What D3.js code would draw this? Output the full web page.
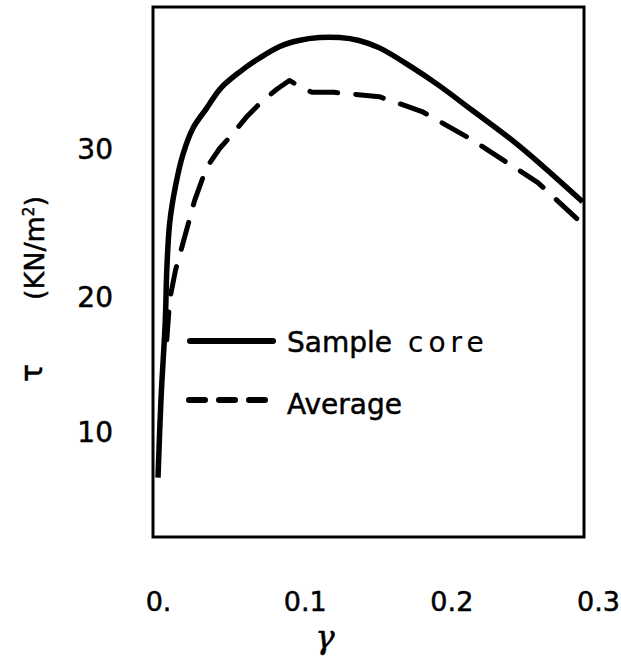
<!DOCTYPE html>
<html>
<head>
<meta charset="utf-8">
<script src="https://cdn.jsdelivr.net/npm/d3@7"></script>
<style>
  body { margin: 0; background: #fff; }
  svg { display: block; }
  text { font-family: "DejaVu Sans", sans-serif; fill: #000; stroke: #000; stroke-width: 0.5px; }
</style>
</head>
<body>
<svg id="chart" width="621" height="659"></svg>
<script>
// shear stress tau (KN/m2) vs shear strain gamma
const sampleGamma = [0.0, 0.002, 0.005, 0.006, 0.008, 0.012, 0.017, 0.024, 0.033, 0.043, 0.056, 0.069,
  0.083, 0.096, 0.110, 0.124, 0.137, 0.151, 0.173, 0.191, 0.214, 0.246, 0.2895]
const sampleTau = [6.7, 12.4, 18.4, 21.9, 25.1, 27.6, 29.7, 31.5, 32.8, 34.2, 35.3, 36.2,
  37.0, 37.4, 37.6, 37.6, 37.4, 36.9, 35.6, 34.4, 32.7, 30.3, 26.5]

const averageGamma = [0.006, 0.008, 0.012, 0.017, 0.025, 0.033, 0.042, 0.051, 0.061, 0.071, 0.081,
  0.0896, 0.098, 0.105, 0.120, 0.151, 0.180, 0.214, 0.259, 0.2895]
const averageTau = [16.9, 19.9, 21.9, 23.7, 26.6, 28.8, 30.1, 31.1, 32.3, 33.3, 34.1,
  34.7, 34.2, 33.9, 33.9, 33.6, 32.6, 30.7, 27.8, 25.0]

const xTicks = [0, 0.1, 0.2, 0.3]
const yTicks = [10, 20, 30]
const legendLabels = ['Sample', 'core', 'Average']

const frame = { left: 153, top: 7, right: 584, bottom: 537 }

const svg = d3.select('#chart')

const x = d3.scaleLinear().domain([0, 0.3]).range([158, 598])
// the hand-drawn axis is not evenly spaced, so y is piecewise
const y = d3.scaleLinear().domain([10, 20, 30]).range([433, 298, 150])

// frame
svg.append('rect')
  .attr('x', frame.left)
  .attr('y', frame.top)
  .attr('width', frame.right - frame.left)
  .attr('height', frame.bottom - frame.top)
  .attr('fill', 'none')
  .attr('stroke', '#000')
  .attr('stroke-width', 3)

// axes (labels only)
const xAxis = d3.axisBottom(x)
  .tickValues(xTicks)
  .tickSize(0)
  .tickPadding(55)
  .tickFormat(d => d === 0 ? '0.' : d.toFixed(1))
svg.append('g')
  .attr('transform', `translate(0,${frame.bottom})`)
  .call(xAxis)
  .call(g => g.select('.domain').remove())
  .selectAll('text')
  .attr('font-size', 27)
  .attr('font-family', '"DejaVu Sans", sans-serif')

const yAxis = d3.axisLeft(y)
  .tickValues(yTicks)
  .tickSize(0)
  .tickPadding(40)
svg.append('g')
  .attr('transform', `translate(${frame.left},0)`)
  .call(yAxis)
  .call(g => g.select('.domain').remove())
  .selectAll('text')
  .attr('font-size', 28)
  .attr('font-family', '"DejaVu Sans", sans-serif')

// axis titles
svg.append('text')
  .attr('x', 325)
  .attr('y', 648)
  .attr('text-anchor', 'middle')
  .attr('font-size', 32)
  .attr('font-style', 'italic')
  .style('font-family', '"DejaVu Serif", serif')
  .text('γ')

svg.append('text')
  .attr('transform', 'translate(42,373) rotate(-90)')
  .attr('text-anchor', 'middle')
  .attr('font-size', 30)
  .style('font-family', '"DejaVu Sans", sans-serif')
  .text('τ')

svg.append('text')
  .attr('transform', 'translate(44,248) rotate(-90)')
  .attr('text-anchor', 'middle')
  .attr('font-size', 27)
  .html('(KN/m<tspan dy="-10" font-size="15">2</tspan><tspan dy="10">)</tspan>')

// curves
const sampleData = sampleGamma.map((g, i) => [g, sampleTau[i]])
const averageData = averageGamma.map((g, i) => [g, averageTau[i]])

svg.append('path')
  .datum(sampleData)
  .attr('fill', 'none')
  .attr('stroke', '#000')
  .attr('stroke-width', 5.5)
  .attr('stroke-linejoin', 'round')
  .attr('d', d3.line().x(d => x(d[0])).y(d => y(d[1])).curve(d3.curveCatmullRom.alpha(0.5)))

svg.append('path')
  .datum(averageData)
  .attr('fill', 'none')
  .attr('stroke', '#000')
  .attr('stroke-width', 5)
  .attr('stroke-linecap', 'round')
  .attr('stroke-linejoin', 'round')
  .attr('stroke-dasharray', '28,18')
  .attr('d', d3.line().x(d => x(d[0])).y(d => y(d[1])))

// legend
const legend = svg.append('g')
legend.append('line')
  .attr('x1', 190).attr('x2', 273)
  .attr('y1', 341).attr('y2', 341)
  .attr('stroke', '#000')
  .attr('stroke-width', 6)
  .attr('stroke-linecap', 'round')
const sampleText = legend.append('text')
  .attr('x', 287)
  .attr('y', 352)
  .attr('font-size', 28)
sampleText.append('tspan').text(legendLabels[0])
sampleText.append('tspan')
  .attr('x', 408)
  .attr('letter-spacing', 5)
  .style('stroke-width', '0.2px')
  .text(legendLabels[1])

legend.append('line')
  .attr('x1', 189).attr('x2', 268)
  .attr('y1', 400).attr('y2', 400)
  .attr('stroke', '#000')
  .attr('stroke-width', 6)
  .attr('stroke-linecap', 'round')
  .attr('stroke-dasharray', '16,14')
legend.append('text')
  .attr('x', 287)
  .attr('y', 414)
  .attr('font-size', 28)
  .text(legendLabels[2])
</script>
</body>
</html>
